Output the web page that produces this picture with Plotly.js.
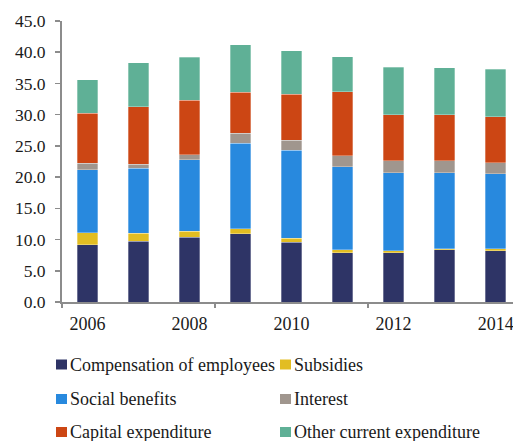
<!DOCTYPE html>
<html><head><meta charset="utf-8">
<script src="https://cdn.plot.ly/plotly-3.0.1.min.js"></script>
<style>html,body{margin:0;padding:0;background:#fff}</style>
</head><body>
<div id="chart" style="width:513px;height:441px"></div>
<script>
var years = ["2006","2007","2008","2009","2010","2011","2012","2013","2014"];
var tickLabels = ["2006","2008","2010","2012","2014"];
var compensation = [9.2, 9.7, 10.4, 10.9, 9.6, 7.9, 7.9, 8.4, 8.2];
var subsidies    = [1.9, 1.3, 0.9, 0.8, 0.6, 0.5, 0.3, 0.1, 0.3];
var socialBenefits = [10.1, 10.4, 11.5, 13.7, 14.1, 13.3, 12.5, 12.2, 12.0];
var interest     = [1.0, 0.7, 0.8, 1.6, 1.6, 1.7, 1.9, 1.9, 1.8];
var capital      = [8.0, 9.2, 8.7, 6.6, 7.4, 10.3, 7.4, 7.4, 7.4];
var otherCurrent = [5.4, 7.0, 6.9, 7.6, 6.9, 5.6, 7.6, 7.5, 7.6];

var names = ["Compensation of employees","Subsidies","Social benefits","Interest","Capital expenditure","Other current expenditure"];
var series = [compensation, subsidies, socialBenefits, interest, capital, otherCurrent];
var colors = ["#2E3466","#E2BD22","#2889DE","#A0968E","#CC4614","#5FB096"];

var W = 513, H = 441, ML = 62, MT = 21, MB = 139;
var PW = W - ML, PH = H - MT - MB;
function px2x(p){ return (p - ML) / PW; }
function py2y(p){ return (H - MB - p) / PH; }

var idx = years.map(function(_, i){ return i; });
var traces = series.map(function(s, k){
  return {
    type: "bar", x: idx, y: s, name: names[k], width: 0.4, showlegend: false,
    marker: {color: colors[k], line: {color: "rgba(255,255,255,0.6)", width: 0.5}},
    hoverinfo: "y+name"
  };
});
traces.push({type:"scatter", x:[], y:[], xaxis:"x2", showlegend:false, hoverinfo:"skip"});

var fam = "Liberation Serif";
var txt = "#1a1a1a";

// manual two-column legend
var legCols = [56, 280], legRows = [364.5, 399, 432];
var shapes = [], annotations = [];
names.forEach(function(n, k){
  var cx = legCols[k % 2], cy = legRows[Math.floor(k / 2)];
  shapes.push({type:"rect", xref:"paper", yref:"paper",
    x0: px2x(cx), x1: px2x(cx + 11), y0: py2y(cy + 5), y1: py2y(cy - 5),
    fillcolor: colors[k], line: {width: 0}});
  annotations.push({xref:"paper", yref:"paper", x: px2x(cx + 12), y: py2y(cy),
    xanchor:"left", yanchor:"middle", showarrow:false, text: n,
    font: {family: fam, size: 18, color: txt}});
});

var layout = {
  width: W, height: H,
  margin: {l: ML, r: 0, t: MT, b: MB, pad: 0, autoexpand: false},
  barmode: "stack",
  paper_bgcolor: "#fff", plot_bgcolor: "#fff",
  font: {family: fam, size: 18, color: txt},
  showlegend: false,
  shapes: shapes, annotations: annotations,
  xaxis: {
    range: [-0.5, 8.34], tickmode: "array",
    tickvals: [0, 2, 4, 6, 8], ticktext: tickLabels,
    ticks: "", showgrid: false, zeroline: false, automargin: false,
    ticklabeloverflow: "allow", ticklabelstandoff: 4,
    showline: true, linecolor: "#8c8c8c", linewidth: 2,
    tickfont: {family: fam, size: 18, color: txt}
  },
  xaxis2: {
    overlaying: "x", range: [-0.5, 8.34], tickmode: "array",
    tickvals: [-0.5, 2.5, 5.5], ticks: "outside", ticklen: 5, tickwidth: 1.5,
    tickcolor: "#8c8c8c", showticklabels: false, showgrid: false, zeroline: false, showline: false
  },
  yaxis: {
    range: [0, 45], dtick: 5, tickformat: ".1f", automargin: false,
    ticks: "outside", ticklen: 5, tickwidth: 1.5, tickcolor: "#8c8c8c",
    ticklabelstandoff: 6,
    showgrid: false, zeroline: false,
    showline: true, linecolor: "#8c8c8c", linewidth: 2,
    tickfont: {family: fam, size: 17.5, color: txt}
  }
};
Plotly.newPlot("chart", traces, layout, {displayModeBar: false, staticPlot: true});
</script>
</body></html>
